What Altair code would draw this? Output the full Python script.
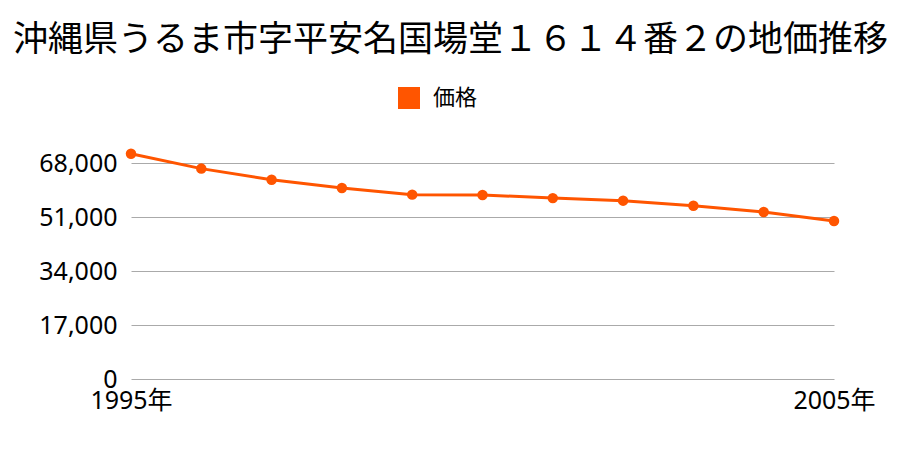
import altair as alt
import pandas as pd

years = [1995, 1996, 1997, 1998, 1999, 2000, 2001, 2002, 2003, 2004, 2005]
prices = [71000, 66300, 62800, 60200, 58100, 58000, 57000, 56200, 54600, 52600, 49800]
series = ["価格"] * len(years)
y_ticks = [0, 17000, 34000, 51000, 68000]
x_ticks = [1995, 2005]
title_text = "沖縄県うるま市字平安名国場堂１６１４番２の地価推移"

df = pd.DataFrame({"year": years, "price": prices, "series": series})

FONT = "Noto Sans CJK JP"
NUMFONT = "Noto Sans, Noto Sans CJK JP"
COLOR = "#ff5500"

x = alt.X("year:Q", scale=alt.Scale(domain=[1995, 2005], nice=False, zero=False),
          axis=alt.Axis(values=x_ticks, labelExpr="datum.value + '年'", grid=False,
                        ticks=False, domain=False, labelFontSize=25, labelFont=NUMFONT,
                        labelColor="#000000", labelPadding=9, title=None,
                        labelFlush=False, labelOverlap=False))
y = alt.Y("price:Q", scale=alt.Scale(domain=[0, 75000], nice=False),
          axis=alt.Axis(values=y_ticks, format=",d", grid=True, gridColor="#aaaaaa",
                        ticks=False, domain=False, labelFontSize=25, labelFont=NUMFONT,
                        labelColor="#000000", labelPadding=14, title=None))

line = alt.Chart(df).mark_line(color=COLOR, strokeWidth=3).encode(x=x, y=y)
points = alt.Chart(df).mark_point(filled=True, size=110, opacity=1).encode(
    x=x, y=y,
    color=alt.Color("series:N", scale=alt.Scale(range=[COLOR]),
                    legend=alt.Legend(title=None, orient="none", legendX=266, legendY=-55,
                                      symbolType="square", symbolSize=484,
                                      labelFontSize=22, labelFont=FONT, labelColor="#000000",
                                      symbolOpacity=1, labelOffset=12, padding=0))
)

chart = alt.layer(line, points).properties(
    width=703, height=238,
    title=alt.TitleParams(title_text, fontSize=35, font=FONT, fontWeight="normal",
                          color="#000000", anchor="middle", dx=-32, offset=28),
    autosize=alt.AutoSizeParams(type="none"),
    padding={"left": 123, "top": 133, "right": 58, "bottom": 63},
).configure_view(stroke=None)

chart.save("out.html", embed_options={"renderer": "svg", "actions": False})
